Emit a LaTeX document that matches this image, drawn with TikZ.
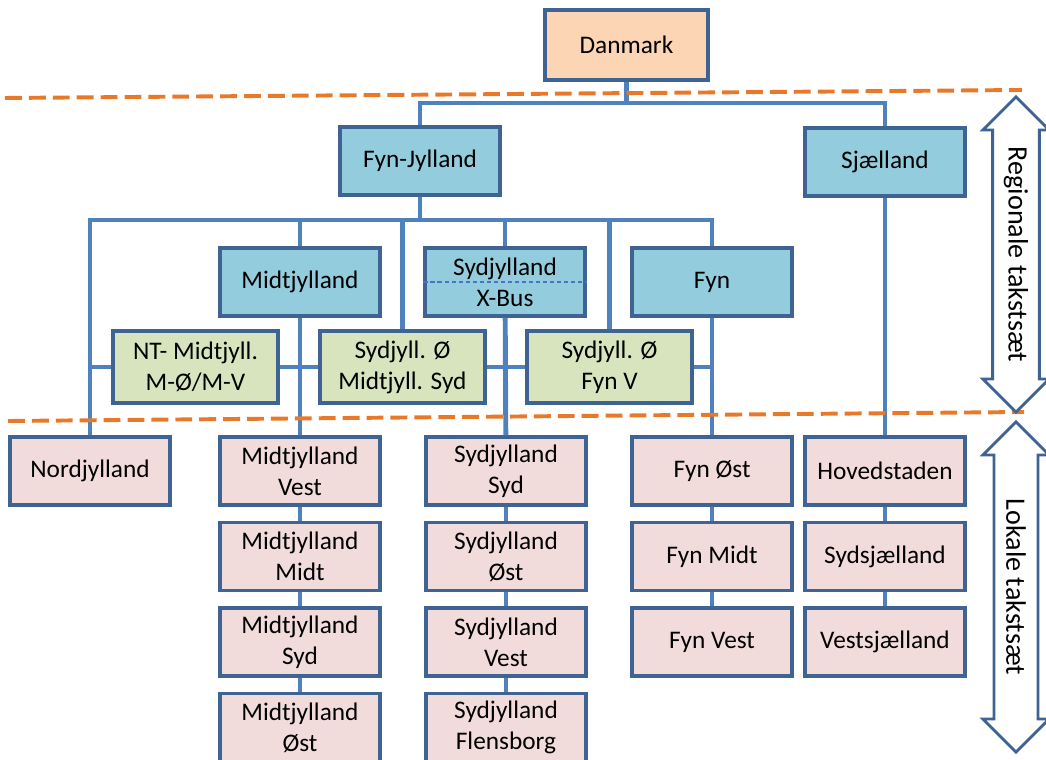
\documentclass[tikz,border=0pt]{standalone}
\usepackage{fontspec}
\setmainfont{Carlito}
\usetikzlibrary{positioning,shapes.arrows}
\usepackage{xcolor}

\definecolor{boxline}{HTML}{3F6493}
\definecolor{linkblue}{HTML}{4F81BD}
\definecolor{regfill}{HTML}{93CDDD}
\definecolor{lokfill}{HTML}{F2DCDB}
\definecolor{mixfill}{HTML}{D7E4BD}
\definecolor{topfill}{HTML}{FCD5B5}
\definecolor{cutline}{HTML}{E8792A}

\tikzset{
tbox/.style={rectangle, draw=boxline, line width=2.2pt, minimum width=4cm, minimum height=1.7cm, align=center, font=\fontsize{18}{22}\selectfont},
reg/.style={tbox, fill=regfill},
lok/.style={tbox, fill=lokfill},
mix/.style={tbox, fill=mixfill, minimum width=4.125cm, minimum height=1.8cm},
link/.style={draw=linkblue, line width=3.5pt},
cut/.style={draw=cutline, line width=2.8pt, dash pattern=on 12pt off 5pt},
span/.style={double arrow, draw=boxline, fill=white, line width=2pt, rotate=-90, double arrow head extend=0.14cm, double arrow tip angle=90, minimum width=1.65cm, inner sep=0pt, font=\fontsize{20}{24}\selectfont}
}

\begin{document}
\begin{tikzpicture}[x=0.025cm, y=-0.025cm]
\useasboundingbox (0,0) rectangle (1046,760);

\node[tbox, fill=topfill, minimum width=4.075cm, minimum height=1.75cm] (dk) at (626.5,45) {Danmark};
\node[reg] (fynjyl) at (420,161) {Fyn-Jylland};
\node[reg] (sjael) at (885,162) {Sjælland};

\node[reg] (midtjyl) at (300,282) {Midtjylland};
\node[reg] (sydjyl) at (505,282) {Sydjylland\\X-Bus};
\node[reg] (fyn) at (712,282) {Fyn};
\draw[draw=linkblue!90!blue, line width=1pt, dash pattern=on 3pt off 2pt] (sydjyl.west) -- (sydjyl.east);

\node[mix] (ntmidt) at (195.5,367) {NT- Midtjyll.\\M-Ø/M-V};
\node[mix] (sydmidt) at (402.5,367) {Sydjyll. Ø\\Midtjyll. Syd};
\node[mix] (sydfyn) at (609.5,367) {Sydjyll. Ø\\Fyn V};

\node[lok] (nord) at (90,471) {Nordjylland};

\node[lok] (midtvest) at (300,471) {Midtjylland\\Vest};
\node[lok, below=0.36cm of midtvest] (midtmidt) {Midtjylland\\Midt};
\node[lok, below=0.36cm of midtmidt] (midtsyd) {Midtjylland\\Syd};
\node[lok, below=0.36cm of midtsyd] (midtoest) {Midtjylland\\Øst};

\node[lok] (sydsyd) at (506,471) {Sydjylland\\Syd};
\node[lok, below=0.36cm of sydsyd] (sydoest) {Sydjylland\\Øst};
\node[lok, below=0.36cm of sydoest] (sydvest) {Sydjylland\\Vest};
\node[lok, below=0.36cm of sydvest] (sydflens) {Sydjylland\\Flensborg};

\node[lok] (fynoest) at (712,471) {Fyn Øst};
\node[lok, below=0.36cm of fynoest] (fynmidt) {Fyn Midt};
\node[lok, below=0.36cm of fynmidt] (fynvest) {Fyn Vest};

\node[lok] (hoved) at (885,471) {Hovedstaden};
\node[lok, below=0.36cm of hoved] (sydsj) {Sydsjælland};
\node[lok, below=0.36cm of sydsj] (vestsj) {Vestsjælland};

\coordinate (bar1) at (626.5,103);
\coordinate (bar2) at (420,220);

\draw[link] (dk.south) -- (bar1) -| (fynjyl.north);
\draw[link] (bar1) -| (sjael.north);
\draw[link] (fynjyl.south) -- (bar2);
\draw[link] (bar2) -| (nord.north);
\draw[link] (bar2) -| (midtjyl.north);
\draw[link] (bar2) -| (sydmidt.north);
\draw[link] (bar2) -| (sydjyl.north);
\draw[link] (bar2) -| (sydfyn.north);
\draw[link] (bar2) -| (fyn.north);
\draw[link] (ntmidt.west) -- (ntmidt.west -| nord.north);
\draw[link] (sydfyn.east) -- (sydfyn.east -| fyn.south);

\draw[link]
(ntmidt) edge (sydmidt)
(sydmidt) edge (sydfyn)
(midtjyl) edge (midtvest)
(sydjyl) edge (sydsyd)
(fyn) edge (fynoest)
(sjael) edge (hoved)
(midtvest) edge (midtmidt)
(midtmidt) edge (midtsyd)
(midtsyd) edge (midtoest)
(sydsyd) edge (sydoest)
(sydoest) edge (sydvest)
(sydvest) edge (sydflens)
(fynoest) edge (fynmidt)
(fynmidt) edge (fynvest)
(hoved) edge (sydsj)
(sydsj) edge (vestsj);

% skillelinjer
\draw[cut] (5,98) -- (1022,90);
\draw[cut] (8,421) -- (1024,412);

\node[span, minimum height=7.875cm] (regspan) at (1016,254.5) {Regionale takstsæt};
\node[span, minimum height=8.25cm] (lokspan) at (1016,587) {Lokale takstsæt};
\end{tikzpicture}
\end{document}
